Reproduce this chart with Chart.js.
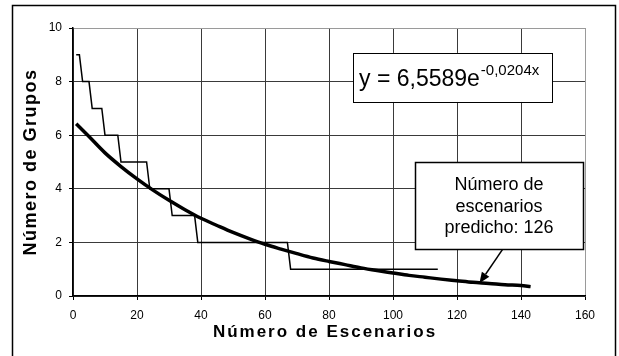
<!DOCTYPE html>
<html><head><meta charset="utf-8">
<script src="https://cdn.jsdelivr.net/npm/chart.js@4"></script>
<style>html,body{margin:0;padding:0;background:#fff}#wrap{width:619px;height:356px}</style>
</head><body><div id="wrap"><canvas id="c" width="619" height="356"></canvas></div>
<script>
// ---- data ----
const stepX = [1, 2, 3, 5, 6, 9, 10, 14, 15, 23, 24, 30, 31, 38, 39, 67, 68, 114];
const stepY = [9, 9, 8, 8, 7, 7, 6, 6, 5, 5, 4, 4, 3, 3, 2, 2, 1, 1];
const trendX = [1, 5, 10, 15, 20, 25, 30, 35, 40, 45, 50, 55, 60, 65, 70, 75, 80, 85, 90, 95, 100, 105, 110, 115, 120, 125, 130, 135, 140, 143];
const trendY = [6.43, 5.95, 5.34, 4.83, 4.37, 3.95, 3.57, 3.22, 2.90, 2.63, 2.37, 2.14, 1.93, 1.75, 1.58, 1.42, 1.29, 1.17, 1.05, 0.95, 0.86, 0.77, 0.70, 0.63, 0.57, 0.51, 0.47, 0.42, 0.39, 0.35];
const xTicks = [0, 20, 40, 60, 80, 100, 120, 140, 160];
const yTicks = [0, 2, 4, 6, 8, 10];
const xTitle = 'Número de Escenarios';
const yTitle = 'Número de Grupos';
const eqMain = 'y = 6,5589e';
const eqExp = '-0,0204x';
const calloutLines = ['Número de', 'escenarios', 'predicho: 126'];
const predicted = 126;

function interpTrend(x) {
  for (let i = 1; i < trendX.length; i++) {
    if (x <= trendX[i]) {
      const t = (x - trendX[i-1]) / (trendX[i] - trendX[i-1]);
      return trendY[i-1] + t * (trendY[i] - trendY[i-1]);
    }
  }
  return trendY[trendY.length-1];
}

const deco = {
  id: 'deco',
  afterDraw(chart) {
    const ctx = chart.ctx, xs = chart.scales.x, ys = chart.scales.y, ca = chart.chartArea;
    const X = v => xs.getPixelForValue(v), Y = v => ys.getPixelForValue(v);
    ctx.save();
    // outer frame
    ctx.strokeStyle = '#000'; ctx.lineWidth = 1.5;
    ctx.strokeRect(12.5, 5.5, 603, 360);
    // axis titles
    ctx.fillStyle = '#000';
    ctx.font = 'bold 17px "Liberation Sans", Arial, sans-serif';
    ctx.letterSpacing = '2px';
    ctx.textAlign = 'center'; ctx.textBaseline = 'alphabetic';
    ctx.fillText(xTitle, (ca.left + ca.right) / 2 - 4, 337);
    ctx.save();
    ctx.translate(36, (ca.top + ca.bottom) / 2);
    ctx.rotate(-Math.PI / 2);
    ctx.font = 'bold 18px "Liberation Sans", Arial, sans-serif';
    ctx.letterSpacing = '1.5px';
    ctx.fillText(yTitle, 0, 0);
    ctx.restore();
    ctx.letterSpacing = '0px';
    // equation box
    const ex0 = X(87.5), ex1 = X(149.7), ey0 = Y(9.07), ey1 = Y(7.24);
    ctx.fillStyle = '#fff'; ctx.fillRect(ex0, ey0, ex1 - ex0, ey1 - ey0);
    ctx.lineWidth = 1; ctx.strokeStyle = '#000';
    ctx.strokeRect(Math.round(ex0) + 0.5, Math.round(ey0) + 0.5, Math.round(ex1 - ex0), Math.round(ey1 - ey0));
    ctx.fillStyle = '#000'; ctx.textAlign = 'left';
    ctx.font = '23px "Liberation Sans", Arial, sans-serif';
    ctx.fillText(eqMain, ex0 + 6, ey0 + 33);
    const w = ctx.measureText(eqMain).width;
    ctx.font = '15px "Liberation Sans", Arial, sans-serif';
    ctx.fillText(eqExp, ex0 + 6 + w + 1, ey0 + 22);
    // callout box
    const cx0 = X(106.9), cx1 = X(159.4), cy0 = Y(4.99), cy1 = Y(1.75);
    // arrow
    const tipX = X(predicted + 1), tipY = Y(interpTrend(predicted) - 0.03);
    const sx = X(134.3), sy = cy1;
    const ang = Math.atan2(tipY - sy, tipX - sx);
    const ah = 11, aw = 4.5;
    const bx = tipX - ah * Math.cos(ang), by = tipY - ah * Math.sin(ang);
    ctx.strokeStyle = '#000'; ctx.lineWidth = 1.5;
    ctx.beginPath(); ctx.moveTo(sx, sy); ctx.lineTo(bx, by); ctx.stroke();
    ctx.beginPath();
    ctx.moveTo(tipX, tipY);
    ctx.lineTo(bx + aw * Math.sin(ang), by - aw * Math.cos(ang));
    ctx.lineTo(bx - aw * Math.sin(ang), by + aw * Math.cos(ang));
    ctx.closePath(); ctx.fillStyle = '#000'; ctx.fill();
    ctx.fillStyle = '#fff'; ctx.fillRect(cx0, cy0, cx1 - cx0, cy1 - cy0);
    ctx.lineWidth = 1.5; ctx.strokeStyle = '#000';
    ctx.strokeRect(Math.round(cx0) + 0.5, Math.round(cy0) + 0.5, Math.round(cx1 - cx0), Math.round(cy1 - cy0));
    ctx.fillStyle = '#000'; ctx.textAlign = 'center';
    ctx.font = '18px "Liberation Sans", Arial, sans-serif';
    const mid = (cx0 + cx1) / 2;
    calloutLines.forEach((t, i) => ctx.fillText(t, mid, cy0 + 28 + i * 21.5));
    ctx.restore();
  }
};

const gridCol = (v, edge) => v === edge ? '#9a9a9a' : '#3a3a3a';

new Chart(document.getElementById('c'), {
  type: 'line',
  data: {
    datasets: [
      { data: stepX.map((x, i) => ({ x, y: stepY[i] })), borderColor: '#000', borderWidth: 1.5, pointRadius: 0, fill: false },
      { data: trendX.map((x, i) => ({ x, y: trendY[i] })), borderColor: '#000', borderWidth: 3.5, pointRadius: 0, fill: false, cubicInterpolationMode: 'monotone' }
    ]
  },
  options: {
    responsive: false, animation: false, devicePixelRatio: 1,
    layout: { padding: { left: 43, right: 34, top: 28, bottom: 30 } },
    plugins: { legend: { display: false }, tooltip: { enabled: false } },
    scales: {
      x: {
        type: 'linear', min: 0, max: 160,
        afterBuildTicks: s => { s.ticks = xTicks.map(v => ({ value: v })); },
        afterFit: s => { s.height = 30; },
        grid: { color: c => gridCol(c.tick && c.tick.value, 160), lineWidth: 1, tickLength: 4, tickColor: '#000' },
        border: { color: '#000', width: 1.5 },
        ticks: { color: '#000', padding: 8, maxRotation: 0, font: { family: '"Liberation Sans", Arial, sans-serif', size: 12 } }
      },
      y: {
        min: 0, max: 10,
        afterBuildTicks: s => { s.ticks = yTicks.map(v => ({ value: v })); },
        afterFit: s => { s.width = 30; },
        grid: { color: c => gridCol(c.tick && c.tick.value, 10), lineWidth: 1, tickLength: 4, tickColor: '#000' },
        border: { color: '#000', width: 1.5 },
        ticks: { color: '#000', padding: 7, font: { family: '"Liberation Sans", Arial, sans-serif', size: 12 } }
      }
    }
  },
  plugins: [deco]
});
</script>
</body></html>
